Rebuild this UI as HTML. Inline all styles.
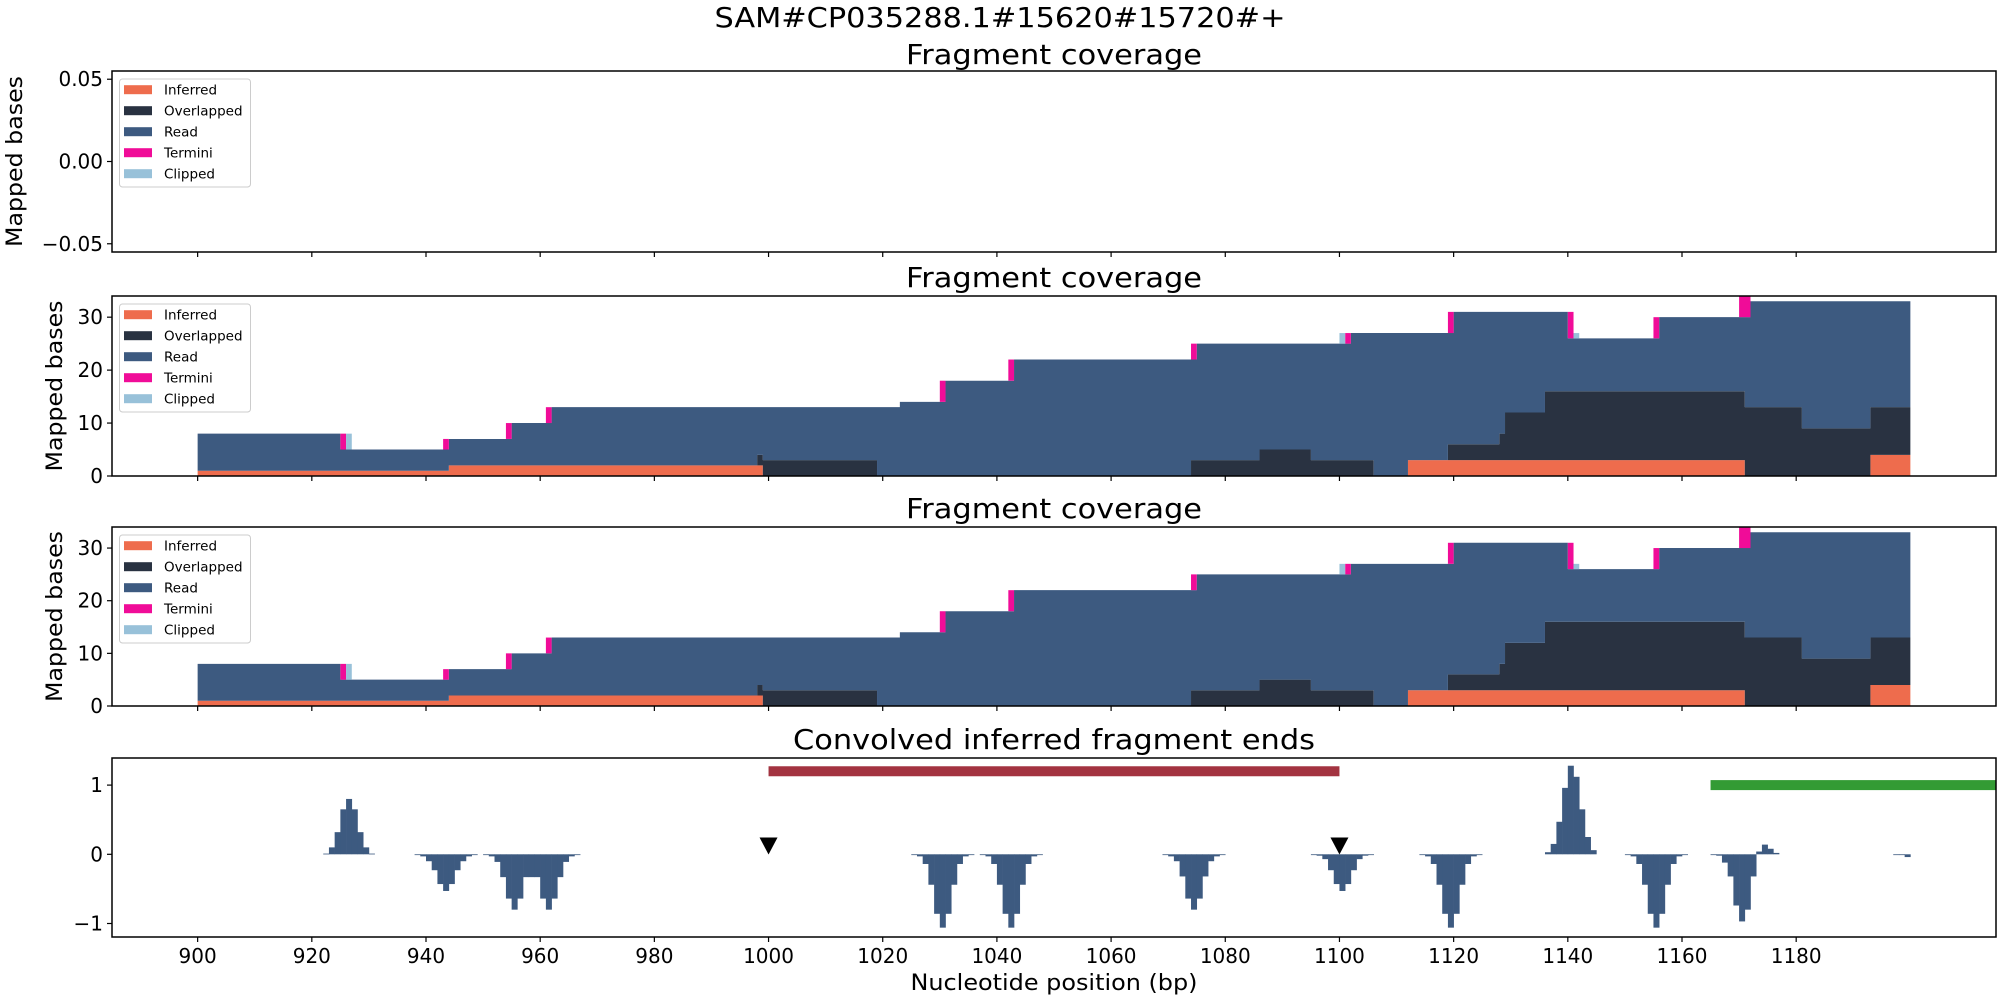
<!DOCTYPE html>
<html><head><meta charset="utf-8"><style>
html,body{margin:0;padding:0;background:#fff;}
svg{display:block;font-family:"DejaVu Sans","Liberation Sans",sans-serif;}
</style></head><body>
<svg id="fig" width="2000" height="1000" viewBox="0 0 2000 1000" xmlns="http://www.w3.org/2000/svg">
<rect x="0" y="0" width="2000" height="1000" fill="#fff"/>
<text x="1000" y="27" font-size="28" text-anchor="middle" textLength="571" lengthAdjust="spacingAndGlyphs">SAM#CP035288.1#15620#15720#+</text>
</svg>
<script>
// ---- coverage data (bp step segments) ----
const covStart = [900,925,944,955,962,1023,1031,1043,1075,1102,1120,1140,1156,1172];
const covEnd   = [925,944,955,962,1023,1031,1043,1075,1102,1120,1140,1156,1172,1200];
const covTotal = [8,5,7,10,13,14,18,22,25,27,31,26,30,33];
const infStart = [900,944,1112,1193];
const infEnd   = [944,999,1171,1200];
const infVal   = [1,2,3,4];
const ovlStart = [998,999,1074,1086,1095,1119,1128,1129,1136,1171,1181,1193];
const ovlEnd   = [999,1019,1086,1095,1106,1128,1129,1136,1171,1181,1193,1200];
const ovlVal   = [2,3,3,5,3,3,5,9,13,13,9,9];
const terStart = [925,943,954,961,1030,1042,1074,1101,1119,1140,1155,1170];
const terEnd   = [926,944,955,962,1031,1043,1075,1102,1120,1141,1156,1172];
const terVal   = [3,2,3,3,4,4,3,2,4,5,4,4];
const clpStart = [926,1100,1141];
const clpEnd   = [927,1101,1142];
const clpVal   = [3,2,1];
// ---- convolved ends: peak start bp + values ----
const peakStart = [922,938,950,1025,1037,1069,1095,1114,1136,1150,1165,1197];
const peakVals = [
 [0.01,0.1,0.32,0.65,0.8,0.65,0.32,0.1,0.01],
 [-0.01,-0.03,-0.1,-0.23,-0.43,-0.53,-0.43,-0.23,-0.1,-0.03,-0.01],
 [-0.01,-0.03,-0.11,-0.33,-0.64,-0.8,-0.64,-0.33,-0.33,-0.33,-0.64,-0.8,-0.64,-0.33,-0.11,-0.03,-0.01],
 [-0.01,-0.03,-0.14,-0.44,-0.86,-1.06,-0.86,-0.44,-0.14,-0.03,-0.01],
 [-0.01,-0.03,-0.14,-0.44,-0.86,-1.06,-0.86,-0.44,-0.14,-0.03,-0.01],
 [-0.01,-0.03,-0.1,-0.32,-0.64,-0.8,-0.64,-0.32,-0.1,-0.03,-0.01],
 [-0.01,-0.02,-0.07,-0.23,-0.43,-0.53,-0.43,-0.23,-0.07,-0.02,-0.01],
 [-0.01,-0.03,-0.14,-0.44,-0.86,-1.06,-0.86,-0.44,-0.14,-0.03,-0.01],
 [0.03,0.15,0.47,0.96,1.28,1.12,0.65,0.25,0.06],
 [-0.01,-0.03,-0.14,-0.44,-0.86,-1.06,-0.86,-0.44,-0.14,-0.03,-0.01],
 [-0.01,-0.02,-0.12,-0.32,-0.74,-0.97,-0.8,-0.32,0.04,0.14,0.08,0.02],
 [-0.01,-0.01,-0.04]
];
const markerPos = [1000,1100];
const markerVal = [0.12,0.12];
const redBar = [1000,1100,1.2];
const greenBar = [1165,1215,1.0];
const xTicks = [900,920,940,960,980,1000,1020,1040,1060,1080,1100,1120,1140,1160,1180];
const covTicks = [0,10,20,30];
const emptyTicks = [0.05,0,-0.05];
const emptyTickLabels = ["0.05","0.00","\u22120.05"];
const convTicks = [1,0,-1];
const convTickLabels = ["1","0","\u22121"];
const legendLabels = ["Inferred","Overlapped","Read","Termini","Clipped"];
const C = {inf:"#ee6c4d",ovl:"#293241",read:"#3d5a80",ter:"#f00c98",clp:"#98c1d9"};
const legendColors = [C.inf,C.ovl,C.read,C.ter,C.clp];

const NS="http://www.w3.org/2000/svg";
const svg=document.getElementById('fig');
const L=112,R=1996,XMIN=885,XMAX=1215;
const X=bp=>L+(bp-XMIN)*(R-L)/(XMAX-XMIN);
function el(tag,attrs,parent){const e=document.createElementNS(NS,tag);for(const k in attrs)e.setAttribute(k,attrs[k]);(parent||svg).appendChild(e);return e;}
function txt(s,attrs,parent){const e=el('text',attrs,parent);e.textContent=s;return e;}
function segVal(starts,ends,vals,bp){for(let i=0;i<starts.length;i++){if(bp>=starts[i]&&bp<ends[i])return vals[i];}return 0;}

function axesFrame(top,bot,name){
  const g=el('g',{});
  
  
  return g;
}
function drawXTicks(g,bot,labels){
  xTicks.forEach(t=>{
    const l=el('line',{x1:X(t),x2:X(t),y1:bot,y2:bot+5,stroke:'#000','stroke-width':1.2},g);
    
    
    if(labels){const tx=txt(String(t),{x:X(t),y:963,'font-size':20,'text-anchor':'middle'},g);
      
      }
  });
}
function drawYTicks(g,vals,labs,Y){
  vals.forEach((v,i)=>{
    const l=el('line',{x1:L-5,x2:L,y1:Y(v),y2:Y(v),stroke:'#000','stroke-width':1.2},g);
    
    
    const t=txt(labs[i],{x:L-9,y:Y(v)+7,'font-size':20,'text-anchor':'end'},g);
    
    
  });
}
function border(g,top,bot){
  const r=el('rect',{x:L,y:top,width:R-L,height:bot-top,fill:'none',stroke:'#000','stroke-width':1.5},g);
  
  
}
function title(g,s,y,len){
  const t=txt(s,{x:(L+R)/2,y:y,'font-size':28,'text-anchor':'middle',textLength:len,lengthAdjust:'spacingAndGlyphs'},g);
  
  
}
function ylabel(g,top,bot,x){
  const cy=(top+bot)/2;
  const t=txt('Mapped bases',{x:x,y:cy,'font-size':22,'text-anchor':'middle',transform:`rotate(-90 ${x} ${cy})`,textLength:171,lengthAdjust:'spacingAndGlyphs'},g);
  
  
}
function legend(g,top){
  const lg=el('g',{},g);
  
  
  el('rect',{x:119.5,y:top+8,width:131,height:108,rx:3,fill:'#fff','fill-opacity':0.8,stroke:'#ccc','stroke-width':1},lg);
  legendLabels.forEach((s,i)=>{
    const cy=top+18.7+i*21;
    const e=el('g',{},lg);
    
    
    el('rect',{x:124,y:cy-4.5,width:28,height:9,fill:legendColors[i]},e);
    txt(s,{x:164,y:cy+5,'font-size':13.5},e);
  });
}
function coverage(g,top,bot){
  const ymax=34;
  const Y=v=>bot-(v/ymax)*(bot-top);
  const bps=[];for(let b=900;b<1200;b++)bps.push(b);
  const lv0=bps.map(()=>0);
  const lv1=bps.map(b=>segVal(infStart,infEnd,infVal,b));
  const lv2=bps.map((b,i)=>lv1[i]+segVal(ovlStart,ovlEnd,ovlVal,b));
  const lv3=bps.map(b=>segVal(covStart,covEnd,covTotal,b));
  function layer(lo,hi,color,name){
    let d='';
    // draw per contiguous run where hi>lo
    let i=0;
    while(i<bps.length){
      if(hi[i]<=lo[i]){i++;continue;}
      let j=i;while(j<bps.length&&hi[j]>lo[j])j++;
      let p=`M${X(bps[i])},${Y(lo[i])}`;
      for(let k=i;k<j;k++){p+=`L${X(bps[k])},${Y(hi[k])}L${X(bps[k]+1)},${Y(hi[k])}`;}
      for(let k=j-1;k>=i;k--){p+=`L${X(bps[k]+1)},${Y(lo[k])}L${X(bps[k])},${Y(lo[k])}`;}
      d+=p+'Z';i=j;
    }
    const pth=el('path',{d:d,fill:color},g);
    
    
  }
  layer(lv0,lv1,C.inf,'inferred-area');
  layer(lv1,lv2,C.ovl,'overlapped-area');
  layer(lv2,lv3,C.read,'read-area');
  terStart.forEach((s,i)=>{
    const base=segVal(covStart,covEnd,covTotal,s);
    const r=el('rect',{x:X(s),y:Y(base+terVal[i]),width:X(terEnd[i])-X(s),height:Y(base)-Y(base+terVal[i]),fill:C.ter},g);
    
    
  });
  clpStart.forEach((s,i)=>{
    const base=segVal(covStart,covEnd,covTotal,s);
    const r=el('rect',{x:X(s),y:Y(base+clpVal[i]),width:X(clpEnd[i])-X(s),height:Y(base)-Y(base+clpVal[i]),fill:C.clp},g);
    
    
  });
  drawYTicks(g,covTicks,covTicks.map(String),Y);
}

// Panel 1 (empty)
{const top=71,bot=252;const g=axesFrame(top,bot,'empty-coverage-panel');
 const Y=v=>(top+bot)/2 - v/0.055*((bot-top)/2);
 title(g,'Fragment coverage',64,296);
 drawYTicks(g,emptyTicks,emptyTickLabels,Y);
 drawXTicks(g,bot,false);ylabel(g,top,bot,22);legend(g,top);border(g,top,bot);}
// Panel 2
{const top=296,bot=476;const g=axesFrame(top,bot,'coverage-panel-1');
 title(g,'Fragment coverage',287,296);
 coverage(g,top,bot);drawXTicks(g,bot,false);ylabel(g,top,bot,62);legend(g,top);border(g,top,bot);}
// Panel 3
{const top=527,bot=706;const g=axesFrame(top,bot,'coverage-panel-2');
 title(g,'Fragment coverage',518,296);
 coverage(g,top,bot);drawXTicks(g,bot,false);ylabel(g,top,bot,62);legend(g,top);border(g,top,bot);}
// Panel 4
{const top=758,bot=937;const g=axesFrame(top,bot,'convolved-ends-panel');
 const y0=854.3,unit=69.2;const Y=v=>y0-v*unit;
 title(g,'Convolved inferred fragment ends',749,522);
 const clip=el('clipPath',{id:'c4'},g);el('rect',{x:L,y:top,width:R-L,height:bot-top},clip);
 const inner=el('g',{'clip-path':'url(#c4)'},g);
 peakStart.forEach((s,p)=>{
   peakVals[p].forEach((v,k)=>{
     const b=s+k;
     const r=el('rect',{x:X(b),y:Math.min(Y(v),Y(0)),width:X(b+1)-X(b)+0.3,height:Math.max(Math.abs(Y(v)-Y(0)),0.8),fill:C.read},inner);
     
     
   });
 });
 const rb=el('rect',{x:X(redBar[0]),y:Y(redBar[2])-5,width:X(redBar[1])-X(redBar[0]),height:10,fill:'#a33340'},inner);
 
 
 const gb=el('rect',{x:X(greenBar[0]),y:Y(greenBar[2])-5,width:X(greenBar[1])-X(greenBar[0]),height:10,fill:'#339b34'},inner);
 
 
 markerPos.forEach((m,i)=>{
   const cx=X(m),cy=Y(markerVal[i]);
   const t=el('polygon',{points:`${cx-9},${cy-8.5} ${cx+9},${cy-8.5} ${cx},${cy+8.5}`,fill:'#000'},inner);
   
   
 });
 drawYTicks(g,convTicks,convTickLabels,Y);
 drawXTicks(g,bot,true);border(g,top,bot);
 const xl=txt('Nucleotide position (bp)',{x:(L+R)/2,y:990,'font-size':22,'text-anchor':'middle',textLength:287,lengthAdjust:'spacingAndGlyphs'},g);
 
 
}
</script>
</body></html>
